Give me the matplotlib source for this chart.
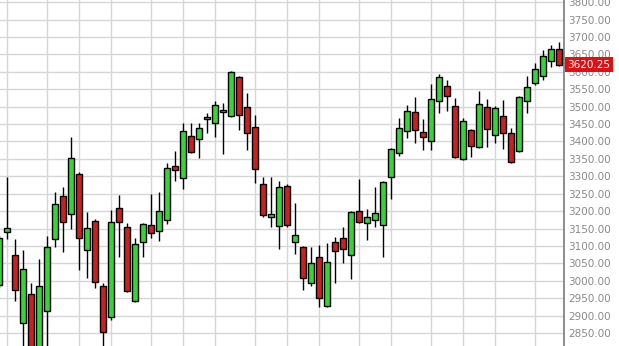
import numpy as np
import matplotlib.pyplot as plt
from matplotlib.ticker import FormatStrFormatter, MultipleLocator

# weekly candles (open, high, low, close)
opens = [2988, 3140, 3074, 2878, 2962, 2800, 2913, 3120, 3243, 3192,
         3307, 3088, 3172, 2985, 2896, 3209, 3154, 2942, 3111, 3160,
         3143, 3174, 3330, 3295, 3416, 3407, 3465, 3453, 3485, 3473,
         3585, 3499, 3442, 3278, 3183, 3157, 3272, 3111, 3097, 2993,
         3068, 2927, 3111, 3123, 3074, 3200, 3166, 3174, 3160, 3298,
         3367, 3430, 3485, 3427, 3401, 3516, 3559, 3502, 3350, 3433,
         3384, 3499, 3419, 3473, 3424, 3373, 3516, 3568, 3588, 3631,
         3666]
highs = [3130, 3298, 3120, 3088, 2993, 3062, 3128, 3255, 3269, 3413,
         3312, 3197, 3177, 2993, 3203, 3246, 3166, 3123, 3166, 3249,
         3255, 3338, 3373, 3453, 3453, 3453, 3482, 3516, 3510, 3602,
         3588, 3539, 3476, 3298, 3298, 3286, 3278, 3223, 3100, 3097,
         3103, 3108, 3126, 3154, 3200, 3292, 3206, 3269, 3287, 3381,
         3467, 3505, 3528, 3465, 3565, 3594, 3577, 3525, 3467, 3436,
         3545, 3522, 3502, 3519, 3439, 3531, 3588, 3625, 3663, 3677,
         3686]
lows = [2980, 3120, 2942, 2790, 2780, 2790, 2795, 3097, 3083, 3149,
        3031, 3008, 2979, 2810, 2887, 3068, 2968, 2940, 3068, 3123,
        3114, 3163, 3286, 3263, 3367, 3352, 3424, 3413, 3364, 3470,
        3433, 3375, 3281, 3183, 3154, 3091, 3154, 3077, 2973, 2985,
        2925, 2925, 2993, 3051, 3005, 3166, 3117, 3154, 3068, 3235,
        3358, 3410, 3396, 3375, 3375, 3482, 3487, 3352, 3347, 3355,
        3381, 3384, 3396, 3378, 3338, 3370, 3482, 3562, 3577, 3614,
        3618]
closes = [3123, 3152, 2973, 3034, 2800, 2985, 3097, 3220, 3169, 3352,
          3123, 3152, 2996, 2853, 3169, 3169, 2971, 3106, 3163, 3137,
          3200, 3324, 3318, 3430, 3370, 3439, 3470, 3505, 3490, 3600,
          3476, 3424, 3321, 3189, 3192, 3269, 3160, 3131, 3008, 3051,
          2950, 3054, 3085, 3091, 3197, 3169, 3183, 3195, 3284, 3378,
          3439, 3487, 3433, 3413, 3522, 3585, 3531, 3355, 3459, 3387,
          3508, 3436, 3496, 3424, 3341, 3528, 3556, 3608, 3645, 3666,
          3620.25]

# month boundaries (candle index) used for vertical grid
month_marks = [1, 6, 10, 14, 19, 23, 27, 32, 36, 40, 45, 49, 54, 58, 62, 67]
last_price = 3620.25

GREEN = "#33d633"
RED = "#cc1f1f"


def plot_candles():
    fig = plt.figure(figsize=(6.19, 3.46), dpi=100)
    ax = fig.add_axes([0, 0, 564 / 619, 1])

    o = np.array(opens, dtype=float)
    h = np.array(highs, dtype=float)
    lo = np.array(lows, dtype=float)
    c = np.array(closes, dtype=float)
    x = np.arange(len(o))
    up = c >= o
    colors = np.where(up, GREEN, RED)

    ax.vlines(x, lo, h, color="black", linewidth=1.0, zorder=2)
    bottoms = np.minimum(o, c)
    heights = np.maximum(np.abs(c - o), 2)
    ax.bar(x, heights, bottom=bottoms, width=0.7, color=colors,
           edgecolor="black", linewidth=1.0, zorder=3)

    ax.set_xlim(0.125, 70.625)
    ax.set_ylim(2812.6, 3806.3)

    ax.yaxis.set_major_locator(MultipleLocator(50))
    ax.yaxis.set_major_formatter(FormatStrFormatter("%.2f"))
    ax.yaxis.tick_right()
    ax.tick_params(axis="y", length=0, pad=3, labelsize=7.5, labelcolor="#8a8a8a")
    ax.set_xticks(month_marks)
    ax.tick_params(axis="x", length=0, labelbottom=False)

    ax.grid(True, color="#d6d6d6", linewidth=1.0, zorder=0)
    ax.set_axisbelow(True)
    for side in ["top", "bottom", "left"]:
        ax.spines[side].set_visible(False)
    ax.spines["right"].set_color("#7a7a7a")
    ax.spines["right"].set_linewidth(1.2)

    # last price flag on the axis
    ax.annotate(f"{last_price:.2f}", xy=(1.0, last_price),
                xycoords=("axes fraction", "data"),
                xytext=(2.5, 0), textcoords="offset points",
                ha="left", va="center", fontsize=7.5, color="white",
                bbox=dict(boxstyle="square,pad=0.25", fc="#e01010", ec="none"),
                annotation_clip=False, zorder=5)

    fig.savefig("out.png", dpi=100, facecolor="white")


def main():
    plot_candles()


if __name__ == "__main__":
    main()
